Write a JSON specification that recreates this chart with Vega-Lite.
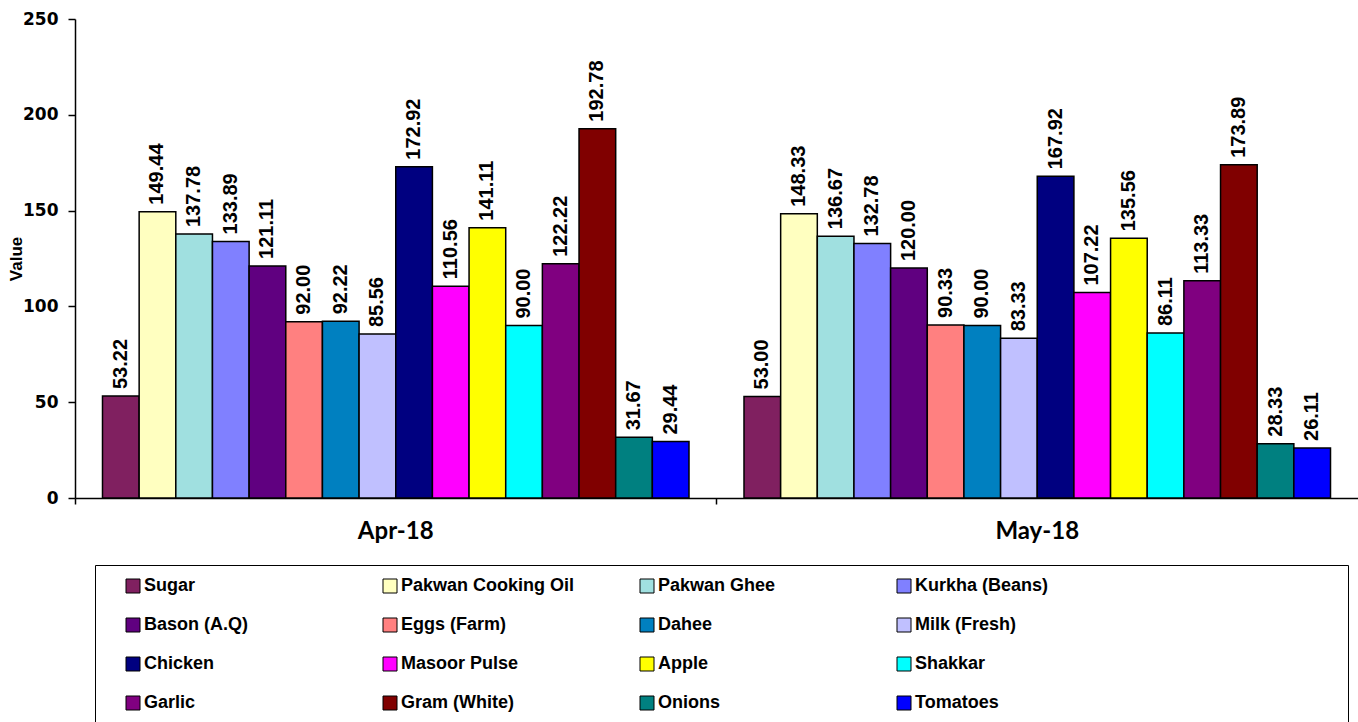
{
  "$schema": "https://vega.github.io/schema/vega-lite/v6.json",
  "autosize": "none",
  "padding": {"left": 75, "top": 19, "right": 0, "bottom": 224},
  "width": 1283,
  "height": 479,
  "background": "white",
  "config": {"view": {"stroke": null}},
  "data": {"values": [
    {"month": "Apr-18", "item": "Sugar", "value": 53.22},
    {"month": "Apr-18", "item": "Pakwan Cooking Oil", "value": 149.44},
    {"month": "Apr-18", "item": "Pakwan Ghee", "value": 137.78},
    {"month": "Apr-18", "item": "Kurkha (Beans)", "value": 133.89},
    {"month": "Apr-18", "item": "Bason (A.Q)", "value": 121.11},
    {"month": "Apr-18", "item": "Eggs (Farm)", "value": 92.00},
    {"month": "Apr-18", "item": "Dahee", "value": 92.22},
    {"month": "Apr-18", "item": "Milk (Fresh)", "value": 85.56},
    {"month": "Apr-18", "item": "Chicken", "value": 172.92},
    {"month": "Apr-18", "item": "Masoor Pulse", "value": 110.56},
    {"month": "Apr-18", "item": "Apple", "value": 141.11},
    {"month": "Apr-18", "item": "Shakkar", "value": 90.00},
    {"month": "Apr-18", "item": "Garlic", "value": 122.22},
    {"month": "Apr-18", "item": "Gram (White)", "value": 192.78},
    {"month": "Apr-18", "item": "Onions", "value": 31.67},
    {"month": "Apr-18", "item": "Tomatoes", "value": 29.44},
    {"month": "May-18", "item": "Sugar", "value": 53.00},
    {"month": "May-18", "item": "Pakwan Cooking Oil", "value": 148.33},
    {"month": "May-18", "item": "Pakwan Ghee", "value": 136.67},
    {"month": "May-18", "item": "Kurkha (Beans)", "value": 132.78},
    {"month": "May-18", "item": "Bason (A.Q)", "value": 120.00},
    {"month": "May-18", "item": "Eggs (Farm)", "value": 90.33},
    {"month": "May-18", "item": "Dahee", "value": 90.00},
    {"month": "May-18", "item": "Milk (Fresh)", "value": 83.33},
    {"month": "May-18", "item": "Chicken", "value": 167.92},
    {"month": "May-18", "item": "Masoor Pulse", "value": 107.22},
    {"month": "May-18", "item": "Apple", "value": 135.56},
    {"month": "May-18", "item": "Shakkar", "value": 86.11},
    {"month": "May-18", "item": "Garlic", "value": 113.33},
    {"month": "May-18", "item": "Gram (White)", "value": 173.89},
    {"month": "May-18", "item": "Onions", "value": 28.33},
    {"month": "May-18", "item": "Tomatoes", "value": 26.11}
  ]},
  "encoding": {
    "x": {
      "field": "month", "type": "nominal", "title": null,
      "scale": {"paddingInner": 0, "paddingOuter": 0},
      "axis": {
        "labelAngle": 0, "labelFont": "Lato", "labelFontSize": 24, "labelFontWeight": "bold",
        "labelColor": "black", "labelPadding": 15, "tickSize": 6, "tickColor": "black",
        "domainColor": "black", "domainWidth": 1.5, "tickWidth": 1.5, "bandPosition": 0
      }
    },
    "xOffset": {
      "field": "item", "type": "nominal", "sort": null,
      "scale": {"paddingInner": 0, "paddingOuter": 0.75}
    },
    "y": {
      "field": "value", "type": "quantitative", "title": "Value",
      "scale": {"domain": [0, 250], "nice": false},
      "axis": {
        "values": [0, 50, 100, 150, 200, 250], "grid": false,
        "labelFont": "DejaVu Sans", "labelFontSize": 17, "labelFontWeight": "bold",
        "labelColor": "black", "labelPadding": 10, "tickSize": 7, "tickColor": "black",
        "domainColor": "black", "domainWidth": 1.5, "tickWidth": 1.5,
        "titleFont": "Liberation Sans", "titleFontSize": 17, "titleFontWeight": "bold",
        "titleColor": "black", "titlePadding": -3
      }
    }
  },
  "layer": [
    {
      "mark": {"type": "bar", "stroke": "black", "strokeWidth": 1.5},
      "encoding": {
        "color": {
          "field": "item", "type": "nominal", "sort": null,
          "scale": {
            "domain": ["Sugar", "Pakwan Cooking Oil", "Pakwan Ghee", "Kurkha (Beans)", "Bason (A.Q)", "Eggs (Farm)", "Dahee", "Milk (Fresh)", "Chicken", "Masoor Pulse", "Apple", "Shakkar", "Garlic", "Gram (White)", "Onions", "Tomatoes"],
            "range": ["#802060", "#FFFFC0", "#A0E0E0", "#8080FF", "#600080", "#FF8080", "#0080C0", "#C0C0FF", "#000080", "#FF00FF", "#FFFF00", "#00FFFF", "#800080", "#800000", "#008080", "#0000FF"]
          },
          "legend": {
            "title": " ", "titleOrient": "right", "titlePadding": 288,
            "orient": "none", "legendX": 20, "legendY": 546,
            "direction": "horizontal", "columns": 4, "gridAlign": "all",
            "columnPadding": 46, "rowPadding": 21,
            "padding": 12, "strokeColor": "black",
            "symbolType": "square", "symbolSize": 196, "symbolStrokeColor": "black",
            "symbolStrokeWidth": 1, "symbolOpacity": 1, "symbolOffset": 17, "labelOffset": 2,
            "labelFont": "Liberation Sans", "labelFontSize": 18, "labelFontWeight": "bold",
            "labelColor": "black", "labelLimit": 300
          }
        }
      }
    },
    {
      "mark": {"type": "text", "angle": 270, "align": "left", "baseline": "middle", "dx": 7,
               "font": "Liberation Sans", "fontSize": 20, "fontWeight": "bold", "color": "black"},
      "encoding": {
        "text": {"field": "value", "type": "quantitative", "format": ".2f"}
      }
    }
  ]
}
